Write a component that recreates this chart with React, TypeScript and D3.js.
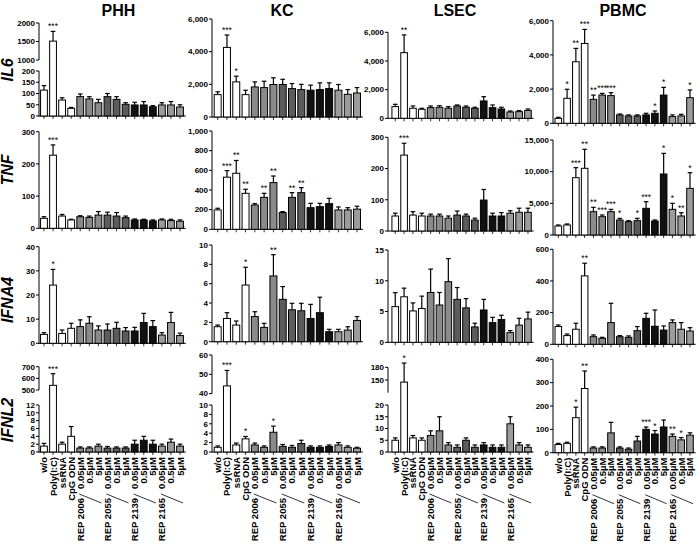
import React from "react";
import * as d3 from "d3";

const cells = ["PHH", "KC", "LSEC", "PBMC"];
const genes = ["IL6", "TNF", "IFNA4", "IFNL2"];
const categories = ["w/o", "Poly(I:C)", "ssRNA", "CpG ODN", "0.05µM", "0.5µM", "5µM", "0.05µM", "0.5µM", "5µM", "0.05µM", "0.5µM", "5µM", "0.05µM", "0.5µM", "5µM"];
const groupLabels = ["REP 2006", "REP 2055", "REP 2139", "REP 2165"];
const barGroup = [0, 0, 0, 0, 1, 1, 1, 2, 2, 2, 3, 3, 3, 4, 4, 4];
const groupColors = ["#ffffff", "#8a8a8a", "#5c5c5c", "#111111", "#9c9c9c"];

// ---- IL6
const PHH_IL6 = [115, 1510, 71, 34, 86, 76, 59, 86, 74, 52, 49, 49, 41, 49, 49, 40];
const PHH_IL6_err = [135, 1773, 81, 38, 98, 86, 74, 100, 86, 59, 61, 64, 46, 59, 64, 50];
const PHH_IL6_sig = ["", "***", "", "", "", "", "", "", "", "", "", "", "", "", "", ""];
const KC_IL6 = [1370, 4260, 2150, 1370, 1840, 1800, 1990, 1990, 1740, 1680, 1640, 1680, 1740, 1640, 1390, 1470];
const KC_IL6_err = [1540, 5020, 2500, 1640, 2150, 2190, 2400, 2310, 2050, 2000, 1950, 2090, 2090, 1990, 1680, 1800];
const KC_IL6_sig = ["", "***", "*", "", "", "", "", "", "", "", "", "", "", "", "", ""];
const LSEC_IL6 = [814, 4580, 700, 630, 745, 770, 700, 860, 770, 700, 1210, 745, 650, 440, 465, 550];
const LSEC_IL6_err = [977, 5815, 860, 700, 860, 880, 814, 930, 860, 770, 1510, 930, 770, 510, 535, 650];
const LSEC_IL6_sig = ["", "**", "", "", "", "", "", "", "", "", "", "", "", "", "", ""];
const PBMC_IL6 = [290, 1460, 3600, 4670, 1400, 1650, 1620, 490, 430, 430, 490, 585, 1650, 390, 430, 1500];
const PBMC_IL6_err = [350, 1990, 4380, 5490, 1650, 1750, 1790, 545, 490, 490, 585, 720, 2100, 490, 525, 1950];
const PBMC_IL6_sig = ["", "*", "**", "***", "**", "***", "***", "", "", "", "", "*", "*", "", "", "*"];

// ---- TNF
const PHH_TNF = [31, 227, 38, 26, 36, 34, 41, 41, 38, 33, 26, 26, 23, 26, 24, 22];
const PHH_TNF_err = [36, 259, 43, 28, 39, 38, 52, 50, 49, 38, 29, 28, 26, 29, 28, 26];
const PHH_TNF_sig = ["", "***", "", "", "", "", "", "", "", "", "", "", "", "", "", ""];
const KC_TNF = [197, 530, 570, 366, 247, 325, 475, 170, 325, 373, 220, 230, 261, 197, 197, 205];
const KC_TNF_err = [214, 597, 700, 407, 261, 366, 542, 180, 373, 424, 264, 264, 315, 227, 220, 235];
const KC_TNF_sig = ["", "***", "**", "**", "", "**", "**", "", "**", "**", "", "", "", "", "", ""];
const LSEC_TNF = [48, 243, 51, 48, 48, 48, 41, 51, 48, 35, 99, 48, 48, 57, 60, 60];
const LSEC_TNF_err = [57, 281, 62, 57, 54, 54, 48, 64, 54, 41, 133, 57, 59, 65, 73, 73];
const LSEC_TNF_sig = ["", "***", "", "", "", "", "", "", "", "", "", "", "", "", "", ""];
const PBMC_TNF = [1420, 1580, 9050, 10530, 3680, 2890, 3680, 2370, 2100, 2260, 4210, 2210, 9630, 4050, 3000, 7370];
const PBMC_TNF_err = [1580, 1740, 10630, 13530, 4370, 3160, 4050, 2630, 2260, 2630, 5260, 2370, 12890, 5000, 3520, 9840];
const PBMC_TNF_sig = ["", "", "***", "**", "**", "***", "***", "*", "", "*", "***", "", "*", "*", "**", "*"];

// ---- IFNA4
const PHH_IFNA4 = [3.7, 24.1, 4.1, 6.2, 6.9, 8.3, 5.5, 5.5, 6.2, 5.1, 5.1, 8.6, 6.9, 3.4, 8.6, 3.2];
const PHH_IFNA4_err = [4.4, 30.6, 5.5, 8.3, 9.7, 11, 7.2, 8, 8.7, 6.5, 6.6, 12.4, 9.4, 4.4, 12.8, 4.2];
const PHH_IFNA4_sig = ["", "*", "", "", "", "", "", "", "", "", "", "", "", "", "", ""];
const KC_IFNA4 = [1.55, 2.4, 1.72, 5.86, 2.6, 1.48, 6.8, 4.38, 3.3, 3.2, 2.4, 3.0, 1.03, 1.03, 1.2, 2.2];
const KC_IFNA4_err = [1.72, 3.0, 2.14, 7.7, 3.1, 1.9, 9.0, 5.7, 3.97, 3.97, 3.86, 4.6, 1.28, 1.28, 1.55, 2.6];
const KC_IFNA4_sig = ["", "", "", "*", "", "", "**", "", "", "", "", "", "", "", "", ""];
const LSEC_IFNA4 = [5.8, 7.4, 5.1, 5.5, 8.1, 6.06, 9.85, 6.98, 5.6, 2.5, 5.25, 3.2, 3.7, 1.57, 2.8, 3.8];
const LSEC_IFNA4_err = [8.07, 8.8, 6.4, 7.5, 11.9, 8.1, 13.6, 8.9, 7.1, 3.1, 6.98, 4.06, 4.4, 1.9, 3.9, 4.9];
const LSEC_IFNA4_sig = ["", "", "", "", "", "", "", "", "", "", "", "", "", "", "", ""];
const PBMC_IFNA4 = [112, 55, 95, 432, 48, 38, 137, 48, 44, 86, 164, 114, 90, 137, 95, 84];
const PBMC_IFNA4_err = [122, 65, 133, 512, 59, 44, 259, 55, 53, 112, 196, 217, 116, 154, 137, 105];
const PBMC_IFNA4_sig = ["", "", "", "**", "", "", "", "", "", "", "", "", "", "", "", ""];

// ---- IFNL2
const PHH_IFNL2 = [1.5, 540, 2, 4, 1, 1, 1.5, 1, 1, 1, 2, 3, 2, 1.5, 2.5, 1.5];
const PHH_IFNL2_err = [2.2, 640, 2.5, 6.5, 1.3, 1.3, 2, 1.4, 1.3, 1.3, 3, 4, 3, 2, 3.3, 2];
const PHH_IFNL2_sig = ["", "***", "", "", "", "", "", "", "", "", "", "", "", "", "", ""];
const KC_IFNL2 = [1, 44, 1.5, 2.8, 1.5, 1, 4.2, 1.2, 1, 1.8, 1, 1, 1.2, 1.5, 1, 0.8];
const KC_IFNL2_err = [1.3, 52, 1.9, 3.3, 1.9, 1.3, 5.5, 1.6, 1.4, 2.5, 1.3, 1.3, 1.5, 2, 1.3, 1];
const KC_IFNL2_sig = ["", "***", "", "*", "", "", "*", "", "", "", "", "", "", "", "", ""];
const LSEC_IFNL2 = [5, 145, 6, 5, 7, 9, 3, 2, 5, 2, 3, 2, 2, 12, 3, 2];
const LSEC_IFNL2_err = [6, 190, 7, 6, 9, 15, 4, 3, 6, 3, 4, 3, 3, 15, 4, 3];
const LSEC_IFNL2_sig = ["", "*", "", "", "", "", "", "", "", "", "", "", "", "", "", ""];
const PBMC_IFNL2 = [35, 40, 150, 275, 20, 20, 85, 20, 15, 50, 100, 80, 110, 70, 55, 75];
const PBMC_IFNL2_err = [40, 45, 195, 350, 25, 25, 130, 25, 20, 70, 110, 95, 140, 80, 65, 85];
const PBMC_IFNL2_sig = ["", "", "*", "**", "", "", "", "", "", "", "***", "*", "", "**", "*", ""];

const dataTable: Record<string, [number[], number[], string[]]> = {
  "PHH-IL6": [PHH_IL6, PHH_IL6_err, PHH_IL6_sig],
  "KC-IL6": [KC_IL6, KC_IL6_err, KC_IL6_sig],
  "LSEC-IL6": [LSEC_IL6, LSEC_IL6_err, LSEC_IL6_sig],
  "PBMC-IL6": [PBMC_IL6, PBMC_IL6_err, PBMC_IL6_sig],
  "PHH-TNF": [PHH_TNF, PHH_TNF_err, PHH_TNF_sig],
  "KC-TNF": [KC_TNF, KC_TNF_err, KC_TNF_sig],
  "LSEC-TNF": [LSEC_TNF, LSEC_TNF_err, LSEC_TNF_sig],
  "PBMC-TNF": [PBMC_TNF, PBMC_TNF_err, PBMC_TNF_sig],
  "PHH-IFNA4": [PHH_IFNA4, PHH_IFNA4_err, PHH_IFNA4_sig],
  "KC-IFNA4": [KC_IFNA4, KC_IFNA4_err, KC_IFNA4_sig],
  "LSEC-IFNA4": [LSEC_IFNA4, LSEC_IFNA4_err, LSEC_IFNA4_sig],
  "PBMC-IFNA4": [PBMC_IFNA4, PBMC_IFNA4_err, PBMC_IFNA4_sig],
  "PHH-IFNL2": [PHH_IFNL2, PHH_IFNL2_err, PHH_IFNL2_sig],
  "KC-IFNL2": [KC_IFNL2, KC_IFNL2_err, KC_IFNL2_sig],
  "LSEC-IFNL2": [LSEC_IFNL2, LSEC_IFNL2_err, LSEC_IFNL2_sig],
  "PBMC-IFNL2": [PBMC_IFNL2, PBMC_IFNL2_err, PBMC_IFNL2_sig],
};

// ---- layout (positions only)
type Seg = { dom: [number, number]; rng: [number, number]; ticks: number[] };
const colLayout = [
  { axisX: 39, x0: 39.2, x1: 184.8, titleX: 118.5 },
  { axisX: 212, x0: 212.8, x1: 361.9, titleX: 282 },
  { axisX: 388, x0: 390.6, x1: 532.6, titleX: 455 },
  { axisX: 553, x0: 553.7, x1: 694.6, titleX: 623 },
];
const rowLabelY = [70, 170, 300, 420];
const yCfg: Record<string, Seg[]> = {
  "PHH-IL6": [
    { dom: [0, 200], rng: [116, 71], ticks: [0, 50, 100, 150, 200] },
    { dom: [1000, 2000], rng: [60, 23], ticks: [1000, 1500, 2000] },
  ],
  "KC-IL6": [{ dom: [0, 6000], rng: [117, 19], ticks: [0, 2000, 4000, 6000] }],
  "LSEC-IL6": [{ dom: [0, 6000], rng: [118.3, 32.3], ticks: [0, 2000, 4000, 6000] }],
  "PBMC-IL6": [{ dom: [0, 6000], rng: [123.3, 20.7], ticks: [0, 2000, 4000, 6000] }],
  "PHH-TNF": [{ dom: [0, 300], rng: [228.3, 131.7], ticks: [0, 100, 200, 300] }],
  "KC-TNF": [{ dom: [0, 1000], rng: [229.3, 131], ticks: [0, 200, 400, 600, 800, 1000] }],
  "LSEC-TNF": [{ dom: [0, 300], rng: [231, 137.3], ticks: [0, 100, 200, 300] }],
  "PBMC-TNF": [{ dom: [0, 15000], rng: [235, 140], ticks: [0, 5000, 10000, 15000] }],
  "PHH-IFNA4": [{ dom: [0, 40], rng: [343.3, 246.7], ticks: [0, 10, 20, 30, 40] }],
  "KC-IFNA4": [{ dom: [0, 10], rng: [341.7, 245], ticks: [0, 2, 4, 6, 8, 10] }],
  "LSEC-IFNA4": [{ dom: [0, 15], rng: [342.3, 250], ticks: [0, 5, 10, 15] }],
  "PBMC-IFNA4": [{ dom: [0, 600], rng: [344.3, 249.3], ticks: [0, 200, 400, 600] }],
  "PHH-IFNL2": [
    { dom: [0, 12], rng: [452, 405], ticks: [0, 2, 4, 6, 8, 10, 12] },
    { dom: [500, 700], rng: [390, 366.7], ticks: [500, 600, 700] },
  ],
  "KC-IFNL2": [
    { dom: [0, 10], rng: [452, 405], ticks: [0, 2, 4, 6, 8, 10] },
    { dom: [40, 60], rng: [393.6, 355], ticks: [40, 50, 60] },
  ],
  "LSEC-IFNL2": [
    { dom: [0, 20], rng: [452, 405], ticks: [0, 5, 10, 15, 20] },
    { dom: [120, 180], rng: [392.7, 367.3], ticks: [150, 180] },
  ],
  "PBMC-IFNL2": [{ dom: [0, 400], rng: [452.7, 359.3], ticks: [0, 100, 200, 300, 400] }],
};

const FONT = "'Liberation Sans', Arial, Helvetica, sans-serif";

function Panel({ ci, gi }: { ci: number; gi: number }) {
  const key = `${cells[ci]}-${genes[gi]}`;
  const [vals, errs, sigs] = dataTable[key];
  const col = colLayout[ci];
  const segs = yCfg[key];
  const x = d3.scaleBand<number>().domain(d3.range(16)).range([col.x0, col.x1]).paddingInner(0.25).paddingOuter(0.15);
  const y = d3
    .scaleLinear()
    .domain(segs.flatMap((s) => s.dom))
    .range(segs.flatMap((s) => s.rng));
  const fmt = ci === 0 ? d3.format("d") : d3.format(",");
  const y0 = y(0);
  const bw = x.bandwidth();
  const showX = gi === 3;
  return (
    <g>
      {segs.map((s, si) => (
        <g key={si}>
          <line x1={col.axisX} x2={col.axisX} y1={s.rng[0] + (si === 0 ? 0.5 : 0)} y2={s.rng[1]} stroke="#000" strokeWidth={1} />
          {s.ticks.map((t) => (
            <g key={t}>
              <line x1={col.axisX - 3} x2={col.axisX} y1={y(t)} y2={y(t)} stroke="#000" strokeWidth={1} />
              <text x={col.axisX - 4} y={y(t)} dy="0.35em" textAnchor="end" fontSize={8} fontWeight="bold" fontFamily={FONT}>
                {fmt(t)}
              </text>
            </g>
          ))}
        </g>
      ))}
      <line x1={col.axisX} x2={col.x1 + 1} y1={y0} y2={y0} stroke="#000" strokeWidth={1} />
      {vals.map((v, i) => {
        const cx = (x(i) as number) + bw / 2;
        const yt = y(v);
        const ye = y(errs[i]);
        return (
          <g key={i}>
            <line x1={cx} x2={cx} y1={y0} y2={y0 + 3} stroke="#000" strokeWidth={0.8} />
            <line x1={cx} x2={cx} y1={yt} y2={ye} stroke="#000" strokeWidth={1.2} />
            <line x1={cx - 2.3} x2={cx + 2.3} y1={ye} y2={ye} stroke="#000" strokeWidth={1.2} />
            <rect x={x(i)} y={yt} width={bw} height={y0 - yt} fill={groupColors[barGroup[i]]} stroke="#000" strokeWidth={1} />
            {sigs[i] ? (
              <text x={cx} y={ye - 2} textAnchor="middle" fontSize={8.5} fontFamily={FONT}>
                {sigs[i]}
              </text>
            ) : null}
            {showX ? (
              <text
                transform={`translate(${cx + 3.5},${y0 + 5}) rotate(-90)`}
                textAnchor="end"
                fontSize={9.5}
                fontWeight="bold"
                fontFamily={FONT}
              >
                {categories[i]}
              </text>
            ) : null}
          </g>
        );
      })}
      {showX
        ? groupLabels.map((g, k) => {
            const i0 = 4 + k * 3;
            const xa = (x(i0) as number) + bw / 2;
            const xc = (x(i0 + 2) as number) + bw / 2;
            return (
              <g key={g}>
                <line x1={xa - 1} y1={y0 + 42} x2={xc + 3} y2={y0 + 51} stroke="#000" strokeWidth={0.8} />
                <text
                  transform={`translate(${xa + 3.5},${y0 + 46}) rotate(-90)`}
                  textAnchor="end"
                  fontSize={9.5}
                  fontWeight="bold"
                  fontFamily={FONT}
                >
                  {g}
                </text>
              </g>
            );
          })
        : null}
    </g>
  );
}

export default function App() {
  return (
    <svg width={700} height={546} style={{ position: "absolute", left: 0, top: 0, background: "#fff" }}>
      {cells.map((c, ci) => (
        <text key={c} x={colLayout[ci].titleX} y={16} textAnchor="middle" fontSize={16} fontWeight="bold" fontFamily={FONT}>
          {c}
        </text>
      ))}
      {genes.map((g, gi) => (
        <text
          key={g}
          transform={`translate(13,${rowLabelY[gi]}) rotate(-90)`}
          textAnchor="middle"
          fontSize={16}
          fontWeight="bold"
          fontStyle="italic"
          fontFamily={FONT}
        >
          {g}
        </text>
      ))}
      {cells.map((c, ci) => genes.map((g, gi) => <Panel key={`${c}-${g}`} ci={ci} gi={gi} />))}
    </svg>
  );
}
